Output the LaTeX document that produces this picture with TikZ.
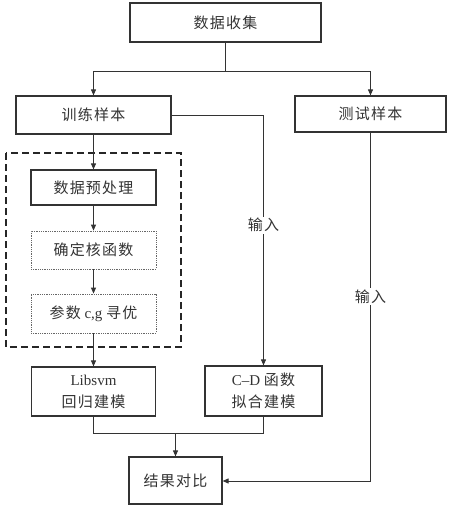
\documentclass[tikz,border=0pt]{standalone}
\usepackage{fontspec}
\setmainfont{Liberation Serif}
\newfontfamily\cjk[LetterSpace=8]{Noto Sans CJK SC}
\usetikzlibrary{arrows.meta}
\tikzset{
  box/.style={draw=black!80, line width=1.2pt, inner sep=0pt, align=center,
    font=\fontsize{15}{22}\selectfont, text=black!80},
  dotbox/.style={box, draw=black!60, line width=0.8pt, densely dotted},
  conn/.style={draw=black!80, line width=1pt},
  arr/.style={conn, -{Triangle[length=6pt,width=5pt]}},
  lbl/.style={fill=white, inner sep=1.5pt, font=\fontsize{15}{18}\selectfont, text=black!80},
}
\begin{document}
\begin{tikzpicture}[x=1pt,y=-1pt]
\useasboundingbox (0,0) rectangle (450,507);
% outer dashed group
\draw[black!85, line width=2pt, dash pattern=on 7pt off 4pt] (6,153) rectangle (181,347);
\node[box, minimum width=191pt, minimum height=39pt] (top) at (225.5,22.5) {\cjk 数据收集};
\node[box, minimum width=155pt, minimum height=38pt] (train) at (93.5,115) {\cjk 训练样本};
\node[box, minimum width=151pt, minimum height=36pt] (test) at (370.5,114) {\cjk 测试样本};
\node[box, minimum width=125pt, minimum height=35pt] (pre) at (93.5,187.5) {\cjk 数据预处理};
\node[dotbox, minimum width=125pt, minimum height=38pt] (kern) at (93.5,250) {\cjk 确定核函数};
\node[dotbox, minimum width=125pt, minimum height=39pt] (param) at (93.5,313.5) {{\cjk 参数} c,g {\cjk 寻优}};
\node[box, minimum width=124pt, minimum height=49pt] (lib) at (93.5,391.5) {Libsvm\\{\cjk 回归建模}};
\node[box, minimum width=117pt, minimum height=50pt] (cd) at (263.5,391) {C--D {\cjk 函数}\\{\cjk 拟合建模}};
\node[box, minimum width=93pt, minimum height=47pt] (res) at (175.5,480.5) {\cjk 结果对比};
% coordinates
\coordinate (split) at (225.5,71);
\coordinate (trainturn) at (263.5,115);
\coordinate (testturn) at (370.5,481);
\coordinate (merge) at (175.5,433);
% connectors
\draw[conn] (top.south) -- (split);
\draw[arr] (split) -| (train.north);
\draw[arr] (split) -| (test.north);
\draw[arr] (train.south) -- (pre.north);
\draw[arr] (pre.south) -- (kern.north);
\draw[arr] (kern.south) -- (param.north);
\draw[arr] (param.south) -- (lib.north);
\draw[conn] (train.east) -- (trainturn);
\draw[arr] (trainturn) -- node[lbl, pos=0.44] {\cjk 输入} (cd.north);
\draw[conn] (test.south) -- node[lbl, pos=0.47] {\cjk 输入} (testturn);
\draw[arr] (testturn) -- (res.east |- testturn);
\draw[conn] (lib.south) |- (merge);
\draw[conn] (cd.south) |- (merge);
\draw[arr] (merge) -- (res.north);
\end{tikzpicture}
\end{document}
